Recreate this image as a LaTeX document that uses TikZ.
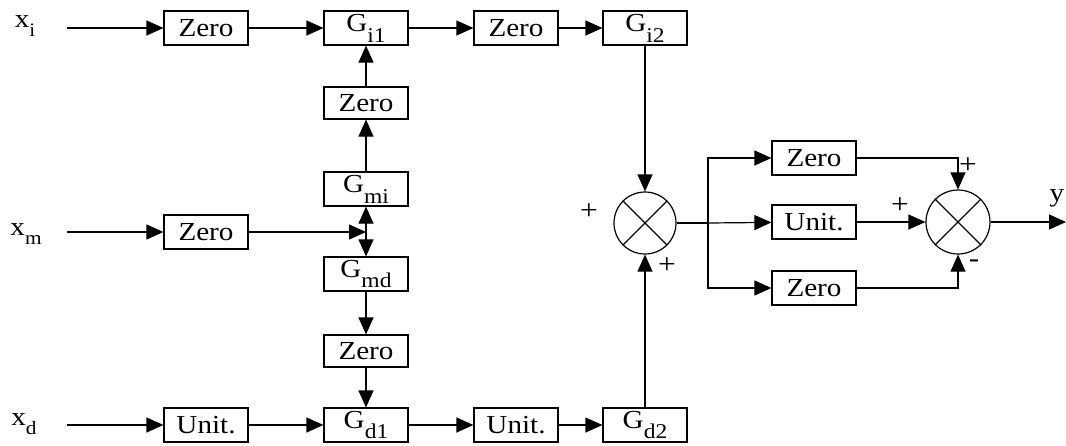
\documentclass[tikz,border=0pt]{standalone}
\usepackage{fontspec}
\setmainfont{Liberation Serif}[FakeStretch=1.12]
\usetikzlibrary{arrows.meta}
\newcommand\Gs[1]{G\raisebox{-0.42em}{\fontsize{21}{21}\selectfont #1}}
\newcommand\Xs[1]{x\raisebox{-0.35em}{\fontsize{19}{19}\selectfont #1}}
\tikzset{
  blk/.style={draw, line width=1.2pt, minimum width=84pt, minimum height=34pt, inner sep=0pt, font=\fontsize{26}{26}\selectfont},
  arr/.style={line width=1.2pt, -{Triangle[length=17pt,width=15pt]}},
  ln/.style={line width=1.2pt},
  sumnode/.style={draw, circle, line width=1.2pt, minimum size=62pt, inner sep=0pt},
  lbl/.style={font=\fontsize{26}{26}\selectfont, inner sep=0pt},
  sgn/.style={font=\fontsize{28}{28}\selectfont, inner sep=0pt}
}
\begin{document}
\begin{tikzpicture}[x=1pt,y=-1pt]
\useasboundingbox (0,0) rectangle (1066,445);
% input labels
\node[lbl] (xi) at (25,26) {\Xs{i}};
\node[lbl] (xm) at (26,234) {\Xs{m}};
\node[lbl] (xd) at (24,424) {\Xs{d}};
\coordinate (si) at (67,28);
\coordinate (sm) at (67,232);
\coordinate (sd) at (67,425);
% top row
\node[blk] (z1) at (206,28) {Zero};
\node[blk] (gi1) at (366,28) {\Gs{i1}};
\node[blk] (z2) at (516,28) {Zero};
\node[blk] (gi2) at (645,28) {\Gs{i2}};
% column
\node[blk,minimum height=32pt] (zu) at (366,103) {Zero};
\node[blk] (gmi) at (366,189) {\Gs{mi}};
\node[blk] (zm) at (206,232) {Zero};
\coordinate (j) at (366,232);
\node[blk] (gmd) at (366,274) {\Gs{md}};
\node[blk,minimum height=32pt] (zl) at (366,351) {Zero};
% bottom row
\node[blk] (u1) at (206,425) {Unit.};
\node[blk] (gd1) at (366,425) {\Gs{d1}};
\node[blk] (u2) at (516,425) {Unit.};
\node[blk] (gd2) at (645,425) {\Gs{d2}};
% sum 1
\node[sumnode] (c1) at (645,223) {};
\draw[ln] (c1.north west) -- (c1.south east) (c1.north east) -- (c1.south west);
\node[sgn] (p1) at (589,212) {+};
\node[sgn] (p2) at (667,266) {+};
% right section
\coordinate (b) at (708,223);
\node[blk] (rz1) at (814,158) {Zero};
\node[blk] (ru) at (814,222) {Unit.};
\node[blk] (rz2) at (814,288) {Zero};
\node[sumnode, minimum size=64pt] (c2) at (958,222) {};
\draw[ln] (c2.north west) -- (c2.south east) (c2.north east) -- (c2.south west);
\node[sgn] (p3) at (968,166) {+};
\node[sgn] (p4) at (900,206) {+};
\node[sgn] (m1) at (974,264) {-};
\coordinate (yo) at (1066,222);
\node[lbl] (ylab) at (1057,198) {y};
% connectors
\draw[arr] (si) -- (z1);
\draw[arr] (z1) -- (gi1);
\draw[arr] (gi1) -- (z2);
\draw[arr] (z2) -- (gi2);
\draw[arr] (gi2) -- (c1);
\draw[arr] (zu) -- (gi1);
\draw[arr] (gmi) -- (zu);
\draw[arr] (sm) -- (zm);
\draw[arr] (zm) -- (j);
\draw[arr] (j) -- (gmi);
\draw[arr] (j) -- (gmd);
\draw[arr] (gmd) -- (zl);
\draw[arr] (zl) -- (gd1);
\draw[arr] (sd) -- (u1);
\draw[arr] (u1) -- (gd1);
\draw[arr] (gd1) -- (u2);
\draw[arr] (u2) -- (gd2);
\draw[arr] (gd2) -- (c1);
\draw[ln] (c1.east) -- (b);
\draw[arr] (b) |- (rz1);
\draw[arr] (b) -- (ru);
\draw[arr] (b) |- (rz2);
\draw[arr] (rz1.east) -| (c2.north);
\draw[arr] (ru) -- (c2);
\draw[arr] (rz2.east) -| (c2.south);
\draw[arr] (c2.east) -- (yo);
\end{tikzpicture}
\end{document}
